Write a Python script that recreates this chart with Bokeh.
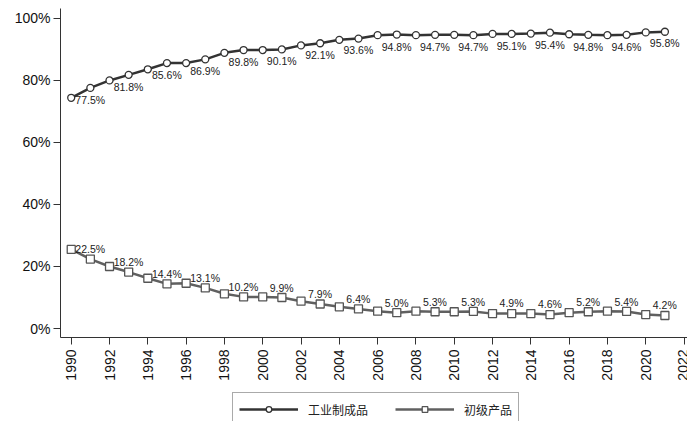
from bokeh.plotting import figure
from bokeh.models import (FixedTicker, PrintfTickFormatter, Legend, LegendItem,
                          Range1d, ColumnDataSource)
from bokeh.layouts import column
from bokeh.core.properties import value
from bokeh.embed import file_html
from bokeh.resources import INLINE
import math

years = list(range(1990, 2022))
manufactured = [74.4, 77.6, 80.0, 81.8, 83.6, 85.6, 85.6, 86.8, 88.9, 89.8,
                89.8, 90.0, 91.3, 92.0, 93.1, 93.5, 94.6, 94.8, 94.6, 94.7,
                94.7, 94.6, 95.0, 95.0, 95.1, 95.4, 94.9, 94.7, 94.6, 94.7,
                95.5, 95.7]
primary = [25.5, 22.4, 20.0, 18.2, 16.2, 14.4, 14.6, 13.1, 11.2, 10.2,
           10.2, 10.0, 8.8, 7.9, 7.0, 6.3, 5.6, 5.1, 5.6, 5.4,
           5.4, 5.5, 4.8, 4.8, 4.8, 4.5, 5.1, 5.4, 5.6, 5.5,
           4.5, 4.2]

label_years = list(range(1990, 2021, 2))
manufactured_labels = [77.5, 81.8, 85.6, 86.9, 89.8, 90.1, 92.1, 93.6,
                       94.8, 94.7, 94.7, 95.1, 95.4, 94.8, 94.6, 95.8]
primary_labels = [22.5, 18.2, 14.4, 13.1, 10.2, 9.9, 7.9, 6.4,
                  5.0, 5.3, 5.3, 4.9, 4.6, 5.2, 5.4, 4.2]

x_ticks = list(range(1990, 2023, 2))
y_ticks = [0, 20, 40, 60, 80, 100]
series_names = ["工业制成品", "初级产品"]

FONT = "Liberation Sans"
C1_LINE, C1_MARK = "#333333", "#333333"
C2_LINE, C2_MARK = "#606060", "#555555"

p = figure(width=687, height=390, output_backend="svg", toolbar_location=None,
           x_range=Range1d(1989.44, 2022.18), y_range=Range1d(-2.9, 103.2),
           min_border_left=60, min_border_right=0, min_border_top=8,
           min_border_bottom=53)
p.outline_line_color = None
p.grid.visible = False
p.background_fill_color = "white"

for ax in (p.xaxis[0], p.yaxis[0]):
    ax.axis_line_color = "#333333"
    ax.major_tick_line_color = "#333333"
    ax.major_tick_out = 7
    ax.major_tick_in = 0
    ax.minor_tick_line_color = None
    ax.major_label_text_font = FONT
    ax.major_label_text_font_size = "14px"
    ax.major_label_text_color = "#111111"

p.xaxis.ticker = FixedTicker(ticks=x_ticks)
p.xaxis.major_label_orientation = math.pi / 2
p.xaxis.major_label_standoff = 5
p.yaxis.ticker = FixedTicker(ticks=y_ticks)
p.yaxis.formatter = PrintfTickFormatter(format="%d%%")
p.yaxis.major_label_standoff = 3

src = ColumnDataSource(dict(x=years, m=manufactured, p=primary))

p.line("x", "m", source=src, line_color=C1_LINE, line_width=2.5)
p.scatter("x", "m", source=src, marker="circle", size=7,
          fill_color="white", line_color=C1_MARK, line_width=1.3)
p.line("x", "p", source=src, line_color=C2_LINE, line_width=2.5)
p.scatter("x", "p", source=src, marker="square", size=8,
          fill_color="white", line_color=C2_MARK, line_width=1.3)

lab = ColumnDataSource(dict(
    x=label_years, m=manufactured_labels, p=primary_labels,
    mt=[f"{v:.1f}%" for v in manufactured_labels],
    pt=[f"{v:.1f}%" for v in primary_labels]))

p.text("x", "m", text="mt", source=lab, text_font=value(FONT),
       text_font_size="10.5px", text_color="#222222", text_align="center",
       text_baseline="middle", x_offset=19, y_offset=12)
p.text("x", "p", text="pt", source=lab, text_font=value(FONT),
       text_font_size="10.5px", text_color="#222222", text_align="center",
       text_baseline="middle", x_offset=19, y_offset=-10)

# legend strip below the chart (same series, drawn outside its visible range)
lg = figure(width=687, height=31, output_backend="svg", toolbar_location=None,
            x_range=Range1d(0, 1), y_range=Range1d(0, 1),
            min_border_left=0, min_border_right=0, min_border_top=0,
            min_border_bottom=0)
lg.axis.visible = False
lg.grid.visible = False
lg.outline_line_color = None

l1 = lg.line("x", "m", source=src, line_color=C1_LINE, line_width=2.5)
s1 = lg.scatter("x", "m", source=src, marker="circle", size=7,
                fill_color="white", line_color=C1_MARK, line_width=1.3)
l2 = lg.line("x", "p", source=src, line_color=C2_LINE, line_width=2.5)
s2 = lg.scatter("x", "p", source=src, marker="square", size=8,
                fill_color="white", line_color=C2_MARK, line_width=1.3)

legend = Legend(items=[LegendItem(label=series_names[0], renderers=[l1, s1]),
                       LegendItem(label=series_names[1], renderers=[l2, s2])],
                orientation="horizontal", location=(172, -5),
                padding=6, glyph_width=59, glyph_height=14, label_height=20,
                label_standoff=10, spacing=27,
                label_text_font="Noto Sans CJK SC",
                label_text_font_size="12px", label_text_color="#222222",
                border_line_color="#555555", border_line_width=1,
                background_fill_color="white", background_fill_alpha=1.0,
                margin=0)
lg.add_layout(legend)

layout = column(p, lg, spacing=0)
open("out.html", "w").write(file_html(layout, INLINE))
